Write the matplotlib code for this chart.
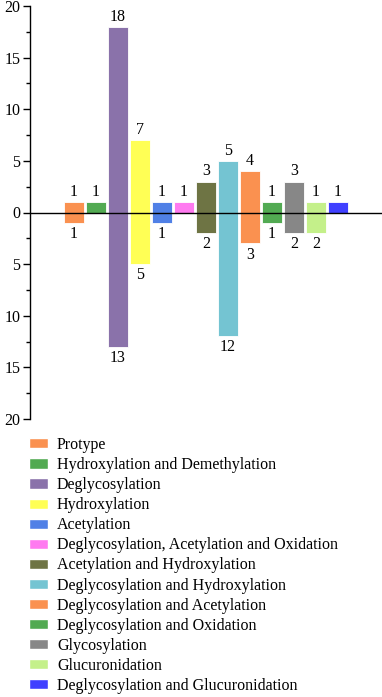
import matplotlib
matplotlib.use("Agg")
import matplotlib.pyplot as plt
from matplotlib.patches import Patch
import numpy as np

categories = ["Protype", "Hydroxylation and Demethylation", "Deglycosylation",
              "Hydroxylation", "Acetylation", "Deglycosylation, Acetylation and Oxidation",
              "Acetylation and Hydroxylation", "Deglycosylation and Hydroxylation",
              "Deglycosylation and Acetylation", "Deglycosylation and Oxidation",
              "Glycosylation", "Glucuronidation", "Deglycosylation and Glucuronidation"]
upper = [1, 1, 18, 7, 1, 1, 3, 5, 4, 1, 3, 1, 1]
lower = [1, 0, 13, 5, 1, 0, 2, 12, 3, 1, 2, 2, 0]
colors = ["#FA9150", "#52AA52", "#8A72AA", "#FFFF55", "#5080E6", "#FF7AF0",
          "#6E7444", "#74C4D2", "#FA9150", "#52AA52", "#878787", "#C4F08A", "#4040FF"]
ytick_vals = [-20, -15, -10, -5, 0, 5, 10, 15, 20]

plt.rcParams['font.family'] = ['Liberation Serif', 'DejaVu Serif']

fig = plt.figure(figsize=(3.82, 6.97), dpi=100)
ax = fig.add_axes([30/382, 1-419/697, 1-30/382, (419-6)/697])

x = np.arange(len(categories))
bw = 0.88
ax.bar(x, upper, width=bw, color=colors, edgecolor="white", linewidth=0.6, zorder=2)
neg = [-v for v in lower]
ax.bar(x, neg, width=bw, color=colors, edgecolor="white", linewidth=0.6, zorder=2)

fs = 11.5
for xi, u, l in zip(x, upper, lower):
    if u > 0:
        ax.text(xi, u + 0.2, str(u), ha="center", va="bottom", fontsize=fs)
    if l > 0:
        ax.text(xi, -l - 0.3, str(l), ha="center", va="top", fontsize=fs)

ax.axhline(0, color="black", linewidth=1.0, zorder=3)
ax.set_xlim(-2, 14)
ax.set_ylim(-20, 20)
ax.set_yticks(ytick_vals)
ax.set_yticklabels([str(abs(v)) for v in ytick_vals], fontsize=fs)
ax.set_yticks(np.arange(-17.5, 20, 5), minor=True)
ax.tick_params(axis="y", which="major", length=5, width=1, direction="out", pad=2)
ax.tick_params(axis="y", which="minor", length=3, width=1, direction="out")
ax.set_xticks([])
for s in ["top", "right", "bottom"]:
    ax.spines[s].set_visible(False)
ax.spines["left"].set_linewidth(1.0)

handles = [Patch(facecolor=c, edgecolor="white", label=lab) for c, lab in zip(colors, categories)]
fig.legend(handles=handles, loc="upper left", bbox_to_anchor=(29/382, 1-437/697),
           frameon=False, fontsize=fs, handlelength=1.2, handleheight=0.6,
           labelspacing=0.255, handletextpad=0.55, borderpad=0, borderaxespad=0)

fig.savefig("out.png", dpi=100)
